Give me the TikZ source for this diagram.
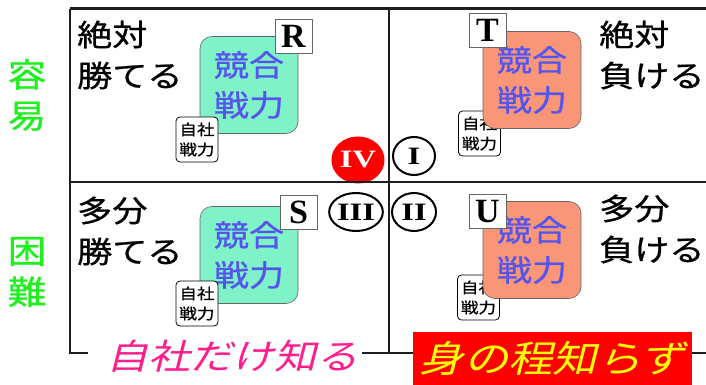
\documentclass[tikz,border=0pt]{standalone}
\usepackage{fontspec}
\usetikzlibrary{shapes.geometric}
\newfontfamily\jp[FakeStretch=1.17]{Noto Sans CJK JP}
\newfontfamily\jpb[FakeStretch=1.17,FakeBold=0.8]{Noto Sans CJK JP}
\newfontfamily\jpit[FakeStretch=1.2,FakeSlant=0.25]{Noto Sans CJK JP}
\newfontfamily\tms{Liberation Serif}
\newfontfamily\tmsw[FakeStretch=1.3]{Liberation Serif}
\definecolor{mint}{RGB}{128,242,200}
\definecolor{salmonc}{RGB}{250,150,120}
\definecolor{kblue}{RGB}{85,85,238}
\definecolor{lgreen}{RGB}{30,240,30}
\definecolor{hpink}{RGB}{255,30,140}
\definecolor{bred}{RGB}{255,0,0}
\definecolor{byellow}{RGB}{255,255,0}
\definecolor{frame}{RGB}{30,30,30}
\begin{document}
\begin{tikzpicture}[x=1pt,y=-1pt,
  quadlabel/.style={font=\jpb\fontsize{30}{41}\selectfont, align=left, anchor=west, inner sep=0pt, text=black},
  forcebox/.style={draw=black!60, line width=0.6pt, rounded corners=12pt, minimum width=98pt, minimum height=97pt, inner sep=0pt, align=center, text=kblue, font=\jpb\fontsize{30}{40}\selectfont},
  ownbox/.style={draw=black, fill=white, rounded corners=4pt, line width=0.8pt, minimum width=42pt, minimum height=45pt, inner sep=0pt, align=center, font=\jpb\fontsize{15}{20}\selectfont},
  letterbox/.style={draw=black!60, fill=white, line width=0.8pt, minimum width=37pt, minimum height=34pt, inner sep=0pt, font=\tms\bfseries\fontsize{34}{34}\selectfont},
  numcirc/.style={ellipse, draw=black, line width=2pt, fill=white, minimum width=44pt, minimum height=38pt, inner sep=0pt, font=\tmsw\bfseries\fontsize{25}{25}\selectfont},
  sidelabel/.style={text=lgreen, align=center, inner sep=0pt, font=\jpb\fontsize{33}{41}\selectfont},
  frameline/.style={draw=frame, line width=2pt}
]
\useasboundingbox[fill=white] (0,0) rectangle (706,385);

% quadrant labels
\node[quadlabel] (tl) at (77,55) {絶対\\勝てる};
\node[quadlabel] (tr) at (599,55) {絶対\\負ける};
\node[quadlabel] (bl) at (77,231) {多分\\勝てる};
\node[quadlabel] (br) at (599,229) {多分\\負ける};

% side labels
\node[sidelabel] (easy) at (27,95) {容\\易};
\node[sidelabel] (hard) at (27,272) {困\\難};

% TL quadrant
\node[forcebox, fill=mint] (ftl) at (249,85) {競合\\戦力};
\node[ownbox] (otl) at (197,139.5) {自社\\戦力};
\node[letterbox] (R) at (293.5,36.5) {R};

% TR quadrant
\node[ownbox] (otr) at (479.5,133.5) {自社\\戦力};
\node[forcebox, fill=salmonc] (ftr) at (532,80) {競合\\戦力};
\node[letterbox] (T) at (487.5,30.5) {T};

% BL quadrant
\node[forcebox, fill=mint] (fbl) at (249,255) {競合\\戦力};
\node[ownbox] (obl) at (197,303.5) {自社\\戦力};
\node[letterbox] (S) at (298.5,212.5) {S};

% BR quadrant
\node[ownbox] (obr) at (478.5,297.5) {自社\\戦力};
\node[forcebox, fill=salmonc] (fbr) at (532,250) {競合\\戦力};
\node[letterbox] (U) at (487.5,211.5) {U};

% numbered circles
\node[numcirc, draw=bred, fill=bred, text=white, minimum width=46pt, minimum height=45pt] (c4) at (358,160) {IV};
\node[numcirc, minimum width=42pt] (c1) at (414,156) {I};
\node[numcirc, minimum width=46pt] (c3) at (356,212) {III};
\node[numcirc] (c2) at (414,212) {II};

% frame
\coordinate (tlc) at (70,9);
\coordinate (trc) at (706,9);
\coordinate (blc) at (70,353);
\coordinate (mt) at (389,9);
\coordinate (mb) at (389,353);
\coordinate (ml) at (70,182);
\coordinate (mr) at (706,182);
\coordinate (b1) at (88,353);
\coordinate (b2) at (362,353);
\coordinate (brc) at (706,353);
\draw[frameline, line width=3pt] (tlc) -- (trc);
\draw[frameline] (tlc) -- (blc) -- (b1);
\draw[frameline] (b2) -- (brc);
\draw[frameline] (mt) -- (mb);
\draw[frameline] (ml) -- (mr);

% bottom labels
\node[text=hpink, inner sep=0pt, font=\jpit\fontsize{35}{35}\selectfont] (own) at (232,356) {自社だけ知る};
\node[fill=bred, text=byellow, minimum width=279pt, minimum height=53pt, inner sep=0pt, font=\jpit\fontsize{37}{37}\selectfont] (self) at (552.5,358.5) {身の程知らず};
\end{tikzpicture}
\end{document}
